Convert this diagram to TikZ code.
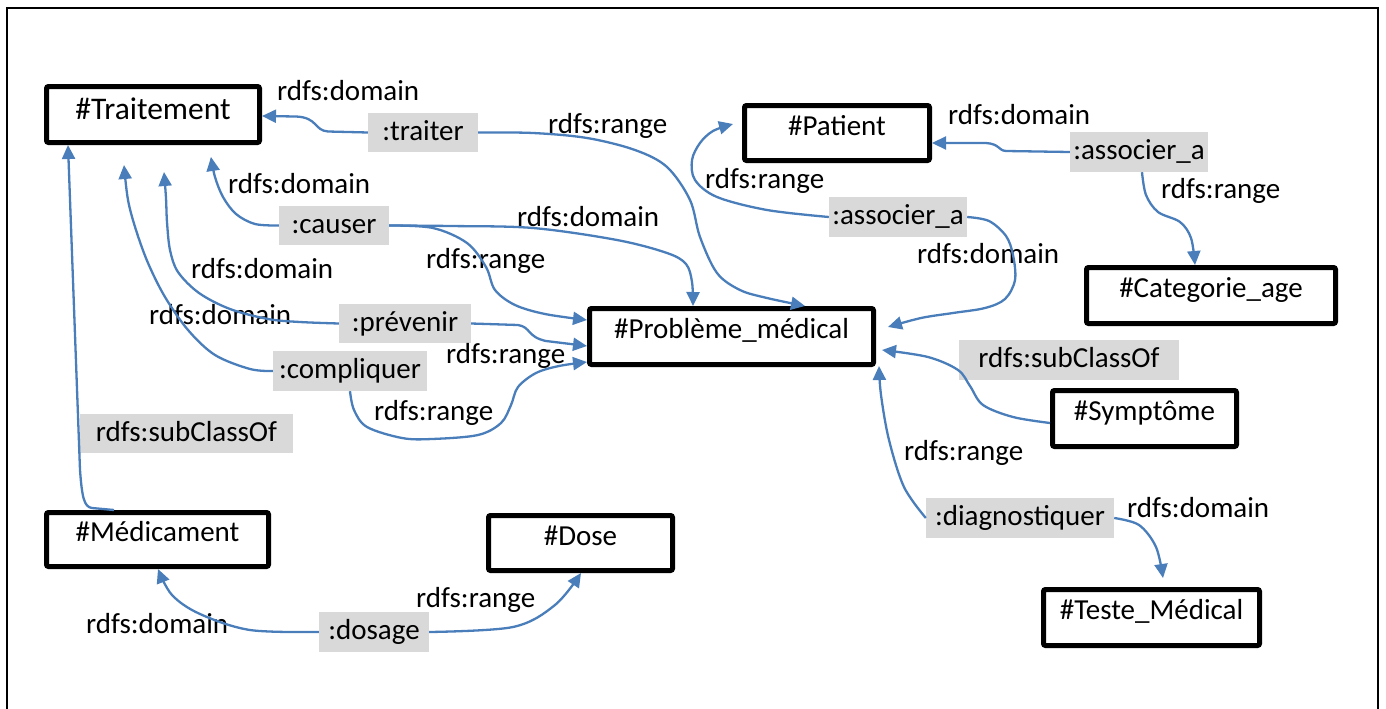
\documentclass[tikz,border=0pt]{standalone}
\usepackage{fontspec}
\setmainfont{Carlito}
\usetikzlibrary{arrows.meta}
\definecolor{connblue}{RGB}{74,126,187}
\definecolor{lblgray}{RGB}{217,217,217}
\begin{document}
\begin{tikzpicture}[x=1pt,y=-1pt,
  every node/.style={font=\fontsize{29}{34}\selectfont},
  box/.style={draw=black,line width=5pt,rounded corners=2pt,fill=white,inner sep=0pt,text height=18pt,text depth=14pt},
  lbl/.style={fill=lblgray,inner sep=0pt,text height=18pt,text depth=3pt},
  rl/.style={anchor=base west,inner sep=0pt},
  conn/.style={draw=connblue,line width=2.3pt,-{Triangle[length=14pt,width=13pt]}}]
\useasboundingbox (0,0) rectangle (1386,709);
% frame
\draw[line width=2pt] (7,709) -- (7,8) -- (1378,8) -- (1378,709);
% class boxes
\node[box,minimum width=213pt,minimum height=56pt,font=\fontsize{31.5}{36}\selectfont,text height=20pt,text depth=11pt] (trait) at (153,114.5) {\#Traitement};
\node[box,minimum width=185pt,minimum height=55pt] (patient) at (837,133) {\#Patient};
\node[box,minimum width=249pt,minimum height=56pt] (cat) at (1211,295.5) {\#Categorie\_age};
\node[box,minimum width=284pt,minimum height=56pt] (prob) at (731.5,336.5) {\#Problème\_médical};
\node[box,minimum width=184pt,minimum height=56pt] (sympt) at (1144.5,418.5) {\#Symptôme};
\node[box,minimum width=216pt,minimum height=56pt] (teste) at (1151.5,617.5) {\#Teste\_Médical};
\node[box,minimum width=222pt,minimum height=54pt] (medic) at (157.5,539.5) {\#Médicament};
\node[box,minimum width=184pt,minimum height=55pt] (dose) at (580.5,543) {\#Dose};
% property labels (gray)
\node[lbl,minimum width=110pt,minimum height=39pt] (traiter) at (423,132.5) {:traiter};
\node[lbl,minimum width=110pt,minimum height=39pt] (causer) at (334,225.5) {:causer};
\node[lbl,minimum width=132pt,minimum height=39pt] (prev) at (405,323.5) {:prévenir};
\node[lbl,minimum width=154pt,minimum height=40pt] (compl) at (350,371) {:compliquer};
\node[lbl,minimum width=213pt,minimum height=39pt] (subL) at (186.5,433.5) {rdfs:subClassOf};
\node[lbl,minimum width=138pt,minimum height=40pt] (assocA) at (898,217) {:associer\_a};
\node[lbl,minimum width=138pt,minimum height=40pt] (assocB) at (1139,152) {:associer\_a};
\node[lbl,minimum width=220pt,minimum height=40pt] (subR) at (1069,360) {rdfs:subClassOf};
\node[lbl,minimum width=188pt,minimum height=40pt] (diag) at (1020,518) {:diagnostiquer};
\node[lbl,minimum width=110pt,minimum height=40pt] (dosage) at (374,632) {:dosage};
% plain labels
\node[rl] (l1) at (277,100) {rdfs:domain};
\node[rl] (l2) at (228,193) {rdfs:domain};
\node[rl] (l3) at (548,133) {rdfs:range};
\node[rl] (l4) at (517,226) {rdfs:domain};
\node[rl] (l5) at (426,268) {rdfs:range};
\node[rl] (l6) at (705,188) {rdfs:range};
\node[rl] (l7) at (191,278) {rdfs:domain};
\node[rl] (l8) at (149,324) {rdfs:domain};
\node[rl] (l9) at (446,363) {rdfs:range};
\node[rl] (l10) at (374,420) {rdfs:range};
\node[rl] (l11) at (948,124) {rdfs:domain};
\node[rl] (l12) at (1161,198) {rdfs:range};
\node[rl] (l13) at (917,263) {rdfs:domain};
\node[rl] (l14) at (904,460) {rdfs:range};
\node[rl] (l15) at (1127,517) {rdfs:domain};
\node[rl] (l16) at (416,607) {rdfs:range};
\node[rl] (l17) at (86,633) {rdfs:domain};
% free arrow ends
\coordinate (eCauserT) at (211,157);
\coordinate (ePrevT) at (164,172);
\coordinate (eComplT) at (124,165);
\coordinate (eAssocP) at (733,124);
\coordinate (eAssocPr) at (888,327);
\coordinate (eSymp) at (882,350);
\coordinate (eDiagP) at (879,366);
\coordinate (eDiagT) at (1163,578);
% connectors
\draw[conn] (traiter.west) -- (328,131.5) .. controls (314,130.5) and (318,117.5) .. (296,116.5) -- (trait.east |- 0,116);
\draw[conn] plot[smooth,tension=0.55] coordinates {(traiter.east) (533,133) (587,138) (635,150) (667,167) (690,200) (700,237) (717,273) (740,290) (767,298) (prob.north -| 805,0)};
\draw[conn] plot[smooth,tension=0.55] coordinates {(causer.west) (255,224) (236,214) (223,197) (215,177) (eCauserT)};
\draw[conn] plot[smooth,tension=0.55] coordinates {(causer.east) (450,226) (533,228) (617,240) (667,253) (686,264) (692,282) (prob.north -| 693,0)};
\draw[conn] plot[smooth,tension=0.55] coordinates {(causer.east) (433,228) (467,243) (486,267) (495,290) (515,305) (545,314) (prob.west |- 0,320)};
\draw[conn] plot[smooth,tension=0.55] coordinates {(prev.west) (300,322) (268,319) (230,309) (199,293) (178,272) (170,250) (167,222) (166,198) (ePrevT)};
\draw[conn] plot[smooth,tension=0.55] coordinates {(compl.west) (250,369) (215,355) (188,330) (165,297) (148,263) (136,230) (128,200) (eComplT)};
\draw[conn] (prev.east) -- (518,325) .. controls (531,327) and (527,337) .. (546,341) -- (prob.west |- 0,346);
\draw[conn] plot[smooth,tension=0.55] coordinates {(compl.south) (354,410) (367,427) (402,438) (432,439) (478,435) (501,423) (511,405) (518,387) (536,373) (559,366) (prob.west |- 0,362)};
\draw[conn] (medic.north -| 114,0) -- (92,508) .. controls (84,507) and (82,497) .. (80,470) -- (trait.south -| 68,0);
\draw[conn] plot[smooth,tension=0.55] coordinates {(assocA.west) (767,210) (717,197) (695,180) (692,160) (700,143) (713,131) (eAssocP)};
\draw[conn] plot[smooth,tension=0.55] coordinates {(assocA.east) (989,221) (1006,236) (1013,255) (1015,280) (1005,299) (985,308) (953,313) (921,318) (eAssocPr)};
\draw[conn] (assocB.west) -- (1006,151) .. controls (998,150.5) and (1000,144) .. (986,143) -- (patient.east |- 0,143);
\draw[conn] plot[smooth,tension=0.55] coordinates {(assocB.south -| 1142,0) (1146,195) (1158,212) (1180,222) (1191,238) (cat.north -| 1195,0)};
\draw[conn] plot[smooth,tension=0.55] coordinates {(sympt.west |- 0,423) (1013,417) (983,405) (970,386) (958,370) (928,357) (eSymp)};
\draw[conn] plot[smooth,tension=0.55] coordinates {(diag.west) (904,487) (889,440) (881,395) (eDiagP)};
\draw[conn] plot[smooth,tension=0.55] coordinates {(diag.east) (1139,525) (1156,547) (eDiagT)};
\draw[conn] plot[smooth,tension=0.55] coordinates {(dosage.west) (250,630) (200,614) (172,595) (medic.south -| 158,0)};
\draw[conn] plot[smooth,tension=0.55] coordinates {(dosage.east) (513,627) (555,605) (dose.south -| 581,0)};
\end{tikzpicture}
\end{document}
